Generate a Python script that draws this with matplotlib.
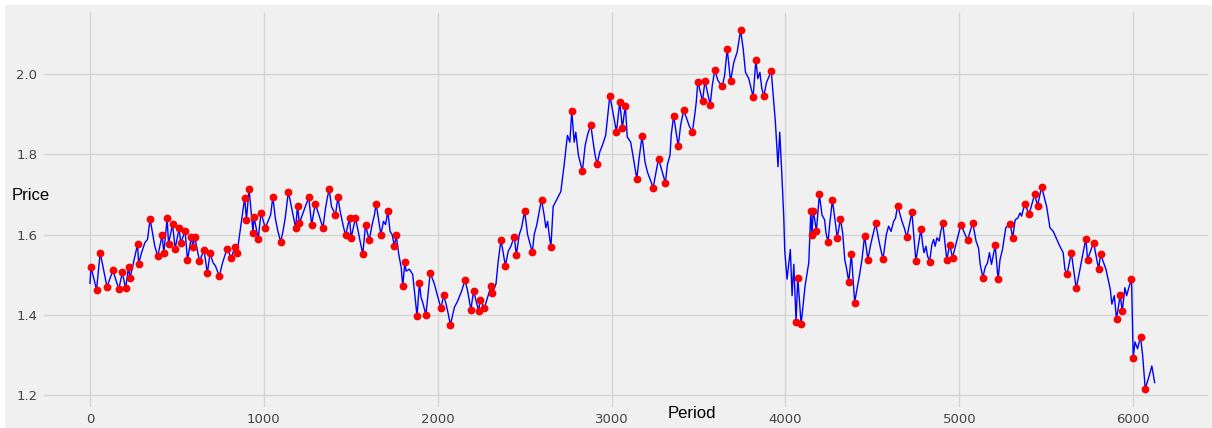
import numpy as np
import matplotlib.pyplot as plt
from matplotlib.patches import Rectangle

plt.style.use('fivethirtyeight')

# Local turning points of the price series (marked in red)
ext_period = [6, 38, 59, 98, 132, 166, 186, 205, 222, 230, 274, 280, 346, 390, 415, 425,
              444, 452, 475, 490, 513, 522, 547, 561, 583, 592, 603, 630, 656, 675, 691, 744,
              788, 813, 834, 846, 890, 900, 915, 938, 943, 968, 984, 1008, 1052, 1097, 1141,
              1183, 1194, 1204, 1258, 1275, 1296, 1340, 1376, 1412, 1426, 1470, 1493, 1502,
              1527, 1569, 1585, 1606, 1646, 1673, 1713, 1751, 1761, 1799, 1811, 1881, 1895,
              1932, 1957, 2019, 2034, 2073, 2157, 2191, 2206, 2235, 2245, 2268, 2306, 2314,
              2364, 2389, 2440, 2452, 2500, 2544, 2597, 2651, 2771, 2832, 2880, 2917, 2990,
              3028, 3047, 3062, 3079, 3145, 3175, 3239, 3270, 3309, 3357, 3383, 3414, 3464,
              3496, 3523, 3537, 3567, 3594, 3636, 3665, 3684, 3742, 3814, 3830, 3876, 3918,
              4061, 4071, 4090, 4146, 4152, 4160, 4178, 4195, 4245, 4270, 4298, 4316, 4364,
              4379, 4398, 4455, 4474, 4519, 4561, 4645, 4698, 4727, 4750, 4779, 4829, 4905,
              4928, 4944, 4961, 5009, 5047, 5077, 5135, 5206, 5223, 5292, 5307, 5376, 5401,
              5433, 5450, 5473, 5619, 5644, 5672, 5728, 5737, 5772, 5801, 5812, 5904, 5925,
              5937, 5990, 6000, 6042, 6069]
ext_price = [1.519, 1.463, 1.555, 1.470, 1.511, 1.464, 1.506, 1.466, 1.520, 1.491, 1.576, 1.528,
             1.639, 1.546, 1.599, 1.555, 1.641, 1.577, 1.626, 1.565, 1.616, 1.579, 1.609, 1.536,
             1.595, 1.570, 1.593, 1.534, 1.562, 1.504, 1.554, 1.496, 1.565, 1.542, 1.570, 1.554,
             1.692, 1.637, 1.714, 1.605, 1.645, 1.590, 1.654, 1.617, 1.694, 1.582, 1.707, 1.617,
             1.672, 1.628, 1.693, 1.625, 1.677, 1.617, 1.713, 1.649, 1.693, 1.598, 1.641, 1.592,
             1.641, 1.551, 1.624, 1.586, 1.677, 1.600, 1.658, 1.571, 1.598, 1.472, 1.532, 1.398,
             1.479, 1.400, 1.505, 1.417, 1.449, 1.375, 1.487, 1.413, 1.460, 1.411, 1.437, 1.417,
             1.471, 1.454, 1.587, 1.523, 1.595, 1.550, 1.658, 1.556, 1.687, 1.569, 1.907, 1.758,
             1.874, 1.775, 1.946, 1.856, 1.930, 1.866, 1.921, 1.739, 1.845, 1.717, 1.789, 1.729,
             1.896, 1.820, 1.909, 1.855, 1.981, 1.932, 1.983, 1.923, 2.010, 1.969, 2.062, 1.982,
             2.109, 1.943, 2.035, 1.946, 2.008, 1.383, 1.493, 1.377, 1.660, 1.600, 1.660, 1.609,
             1.700, 1.582, 1.686, 1.592, 1.639, 1.483, 1.552, 1.431, 1.597, 1.538, 1.628, 1.539,
             1.672, 1.593, 1.656, 1.535, 1.614, 1.533, 1.628, 1.537, 1.575, 1.543, 1.625, 1.586,
             1.630, 1.493, 1.573, 1.489, 1.627, 1.592, 1.677, 1.651, 1.700, 1.672, 1.719, 1.501,
             1.555, 1.466, 1.590, 1.538, 1.580, 1.514, 1.551, 1.390, 1.450, 1.409, 1.489, 1.293,
             1.346, 1.216]

# Other points along the price path, between the turning points
mid_period = [0, 297, 316, 331, 360, 373, 708, 722, 760, 775, 1024, 1039, 1066, 1081,
              1110, 1123, 1355, 1365, 1389, 1439, 1455, 1541, 1554, 1623, 1636, 1688, 1700,
              1726, 1738, 1776, 1790, 1818, 1837, 1856, 1872, 1904, 1914, 1981, 1996, 2048,
              2061, 2096, 2115, 2138, 2172, 2335, 2348, 2406, 2421, 2469, 2482, 2517, 2532,
              2555, 2570, 2584, 2612, 2622, 2632, 2641, 2664, 2708, 2727, 2746, 2760, 2785,
              2794, 2809, 2848, 2861, 2894, 2905, 2932, 2947, 2966, 3090, 3110, 3129, 3158,
              3192, 3206, 3321, 3336, 3343, 3397, 3432, 3445, 3478, 3487, 3579, 3611, 3650,
              3703, 3722, 3757, 3770, 3789, 3803, 3841, 3853, 3864, 3891, 3904, 3942, 3957,
              3967, 3977, 3990, 3996, 4009, 4028, 4038, 4048, 4113, 4134, 4210, 4225, 4233,
              4255, 4329, 4341, 4352, 4411, 4425, 4440, 4488, 4501, 4536, 4548, 4580, 4593,
              4607, 4622, 4633, 4660, 4670, 4683, 4789, 4797, 4808, 4817, 4842, 4852, 4861,
              4871, 4884, 4893, 5096, 5110, 5120, 5148, 5162, 5173, 5185, 5234, 5248, 5267,
              5321, 5336, 5349, 5358, 5502, 5521, 5540, 5578, 5597, 5607, 5694, 5708, 5843,
              5868, 5877, 5891, 5952, 5962, 5978, 6010, 6025, 6054, 6092, 6107, 6124]
mid_price = [1.477, 1.555, 1.580, 1.588, 1.604, 1.571, 1.530, 1.522, 1.526, 1.547, 1.633,
             1.649, 1.641, 1.608, 1.608, 1.641, 1.666, 1.691, 1.670, 1.658, 1.625, 1.612,
             1.583, 1.625, 1.649, 1.633, 1.625, 1.608, 1.600, 1.551, 1.518, 1.509, 1.514,
             1.501, 1.435, 1.444, 1.431, 1.477, 1.452, 1.427, 1.402, 1.419, 1.435, 1.460,
             1.460, 1.477, 1.534, 1.559, 1.571, 1.600, 1.617, 1.600, 1.575, 1.600, 1.625,
             1.658, 1.649, 1.617, 1.633, 1.600, 1.670, 1.707, 1.773, 1.847, 1.830, 1.830,
             1.855, 1.798, 1.822, 1.847, 1.830, 1.798, 1.806, 1.822, 1.847, 1.843, 1.830,
             1.781, 1.789, 1.781, 1.756, 1.774, 1.798, 1.848, 1.872, 1.889, 1.872, 1.897,
             1.930, 1.971, 1.984, 1.996, 2.029, 2.054, 2.062, 2.004, 1.988, 1.963, 1.988,
             2.004, 1.963, 1.979, 1.992, 1.880, 1.769, 1.855, 1.769, 1.645, 1.559, 1.489,
             1.563, 1.448, 1.526, 1.473, 1.530, 1.649, 1.637, 1.604, 1.629, 1.604, 1.538,
             1.514, 1.464, 1.497, 1.538, 1.571, 1.596, 1.588, 1.563, 1.600, 1.621, 1.608,
             1.633, 1.641, 1.649, 1.633, 1.617, 1.575, 1.555, 1.571, 1.547, 1.575, 1.588,
             1.571, 1.592, 1.584, 1.608, 1.584, 1.567, 1.526, 1.518, 1.530, 1.555, 1.526,
             1.538, 1.563, 1.617, 1.637, 1.641, 1.654, 1.646, 1.670, 1.617, 1.608, 1.571,
             1.555, 1.514, 1.514, 1.547, 1.514, 1.464, 1.427, 1.448, 1.468, 1.448, 1.473,
             1.333, 1.316, 1.300, 1.249, 1.273, 1.230]

period = np.array(ext_period + mid_period)
price = np.array(ext_price + mid_price)
order = np.argsort(period)
period, price = period[order], price[order]

fig = plt.figure(figsize=(12.12, 4.28), dpi=100, facecolor='white')
fig.patches.append(Rectangle((5 / 1212, 0), 1, 423 / 428, transform=fig.transFigure,
                             facecolor='#f0f0f0', edgecolor='none', zorder=-10))
ax = fig.add_axes([43 / 1212, 21 / 428, 1165 / 1212, 395 / 428])
ax.set_facecolor('#f0f0f0')

ax.plot(period, price, color='blue', linewidth=1.0)
ax.plot(ext_period, ext_price, 'o', color='red', markersize=4.6)

ax.set_xlim(-270, 6430)
ax.set_ylim(1.171, 2.154)
ax.set_xticks([0, 1000, 2000, 3000, 4000, 5000, 6000])
ax.set_yticks([1.2, 1.4, 1.6, 1.8, 2.0])
ax.tick_params(labelsize=9.5, colors='#444444', pad=4)
ax.grid(color='#d4d4d4', linewidth=1.0)
for s in ax.spines.values():
    s.set_visible(False)

fig.text(12 / 1212, 1 - 196 / 428, 'Price', fontsize=12, family='Liberation Sans',
         va='center', ha='left')
fig.text(692 / 1212, 1 - 414 / 428, 'Period', fontsize=12, family='Liberation Sans',
         va='center', ha='center')

fig.savefig('out.png', dpi=100, facecolor=fig.get_facecolor())
